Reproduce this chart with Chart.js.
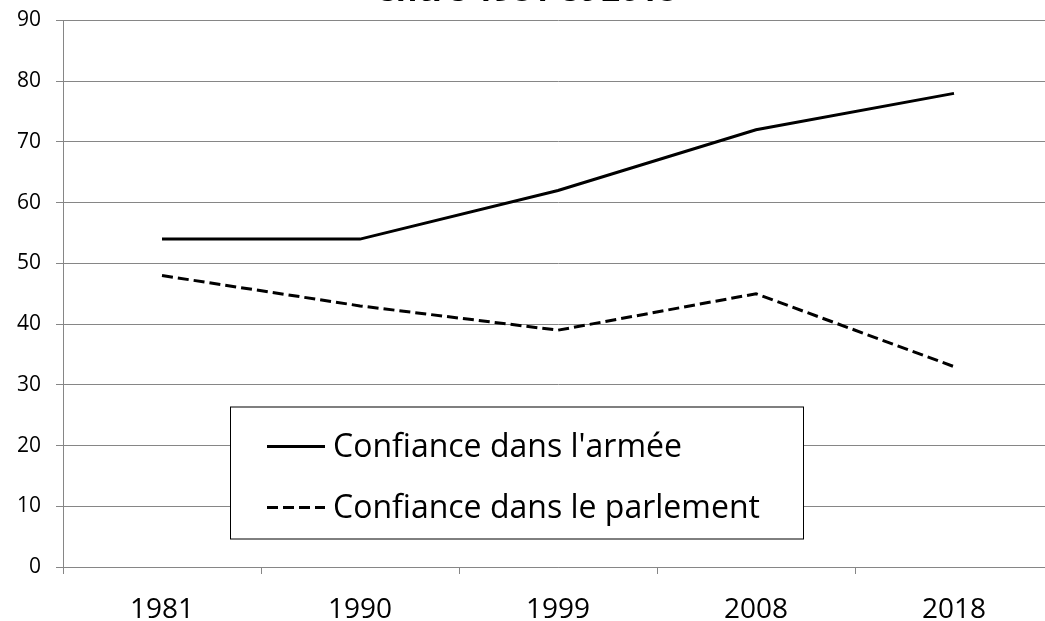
<!DOCTYPE html>
<html>
<head>
<meta charset="utf-8">
<script src="https://cdn.jsdelivr.net/npm/chart.js@4/dist/chart.umd.min.js"></script>
<style>
  html, body { margin: 0; padding: 0; background: #fff; overflow: hidden; }
  #wrap { position: relative; width: 1045px; height: 621px; overflow: hidden; }
  #box { position: absolute; left: 0; top: -39px; width: 1060px; height: 660px; }
</style>
</head>
<body>
<div id="wrap"><div id="box"><canvas id="chart"></canvas></div></div>
<script>
// data
const years = ['1981', '1990', '1999', '2008', '2018'];
const armee = [54, 54, 62, 72, 78];
const parlement = [48, 43, 39, 45, 33];
const seriesNames = ["Confiance dans l'armée", 'Confiance dans le parlement'];
const titleText = 'entre 1981 et 2018';

const FONT = "'Open Sans', 'Liberation Sans', sans-serif";
const GRID = '#868686';

// legend box drawn inside the plot, like the original
const boxLegend = {
  id: 'boxLegend',
  afterDraw(chart) {
    const ctx = chart.ctx;
    const area = chart.chartArea;
    const x = area.left + 167, y = area.top + 386, w = 573, h = 132;
    ctx.save();
    ctx.fillStyle = '#fff';
    ctx.fillRect(x, y, w, h);
    ctx.strokeStyle = '#000';
    ctx.lineWidth = 1;
    ctx.strokeRect(x + 0.5, y + 0.5, w, h);
    ctx.font = '32px ' + FONT;
    ctx.textBaseline = 'middle';
    chart.data.datasets.forEach((ds, i) => {
      const cy = y + 40 + i * 61;
      ctx.beginPath();
      ctx.setLineDash(ds.borderDash || []);
      ctx.lineWidth = ds.borderWidth;
      ctx.strokeStyle = ds.borderColor;
      ctx.moveTo(x + 37, cy);
      ctx.lineTo(x + 95, cy);
      ctx.stroke();
      ctx.setLineDash([]);
      ctx.fillStyle = '#000';
      ctx.fillText(ds.label, x + 103, cy + 1);
    });
    ctx.restore();
  }
};

new Chart(document.getElementById('chart'), {
  type: 'line',
  data: {
    labels: years,
    datasets: [
      {
        label: seriesNames[0],
        data: armee,
        borderColor: '#000',
        borderWidth: 3,
        pointRadius: 0,
        tension: 0
      },
      {
        label: seriesNames[1],
        data: parlement,
        borderColor: '#000',
        borderWidth: 3,
        borderDash: [11, 5],
        pointRadius: 0,
        tension: 0
      }
    ]
  },
  options: {
    responsive: true,
    maintainAspectRatio: false,
    animation: false,
    layout: { padding: { left: 0, right: 7, top: 0, bottom: 0 } },
    plugins: {
      legend: { display: false },
      tooltip: { enabled: false },
      title: {
        display: true,
        text: titleText,
        color: '#000',
        font: { family: FONT, size: 33, weight: 'bold', lineHeight: 1.2 },
        padding: { top: 11, bottom: 8.9 }
      }
    },
    scales: {
      x: {
        offset: true,
        grid: {
          offset: true,
          drawOnChartArea: false,
          drawTicks: true,
          tickLength: 7,
          color: GRID
        },
        border: { color: GRID },
        ticks: {
          color: '#000',
          font: { family: FONT, size: 28 },
          padding: 19,
          maxRotation: 0
        },
        afterFit(scale) { scale.height = 54; }
      },
      y: {
        min: 0,
        max: 90,
        grid: { color: GRID, tickLength: 7 },
        border: { color: GRID },
        ticks: {
          stepSize: 10,
          color: '#000',
          font: { family: FONT, size: 21 },
          padding: 15
        },
        afterFit(scale) { scale.width = 63; }
      }
    }
  },
  plugins: [boxLegend]
});
</script>
</body>
</html>
